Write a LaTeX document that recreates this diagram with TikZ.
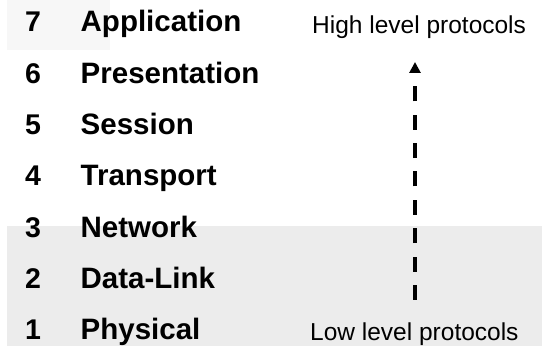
\documentclass[tikz,border=0pt]{standalone}
\usepackage{fontspec}
\setmainfont{Liberation Sans}
\usetikzlibrary{arrows.meta}
\definecolor{bandgray}{HTML}{ECECEC}
\definecolor{faintgray}{HTML}{F7F7F7}
\begin{document}
\begin{tikzpicture}[x=1pt,y=-1pt,
  layernum/.style={anchor=base,inner sep=0pt,font=\fontsize{28.5}{28.5}\selectfont\bfseries},
  layername/.style={anchor=base west,inner sep=0pt,font=\fontsize{29.5}{29.5}\selectfont\bfseries},
  protolabel/.style={anchor=base west,inner sep=0pt,font=\fontsize{24.5}{24.5}\selectfont},
  dashline/.style={line width=3.3pt,dash pattern=on 15pt off 13.375pt,
    -{Triangle[length=11pt,width=11pt]}}]
\useasboundingbox (0,0) rectangle (542,350);
\fill[white] (0,0) rectangle (542,350);
\fill[faintgray] (7,0) rectangle (110,50);
\fill[bandgray] (7,226) rectangle (542,346);
% layers
\foreach \n/\name [count=\i from 0] in {7/Application,6/Presentation,5/Session,4/Transport,3/Network,2/Data-Link,1/Physical}{
  \node[layernum] (num\n) at (33,{32+51.33*\i}) {\n};
  \node[layername] (lay\n) at (80.5,{32+51.33*\i}) {\name};
}
\node[protolabel] (high) at (312,34) {High level protocols};
\node[protolabel] (low) at (310,341) {Low level protocols};
\coordinate (lowend) at (415,300);
\coordinate (highend) at (415,62);
\draw[dashline] (lowend) -- (highend);
\end{tikzpicture}
\end{document}
